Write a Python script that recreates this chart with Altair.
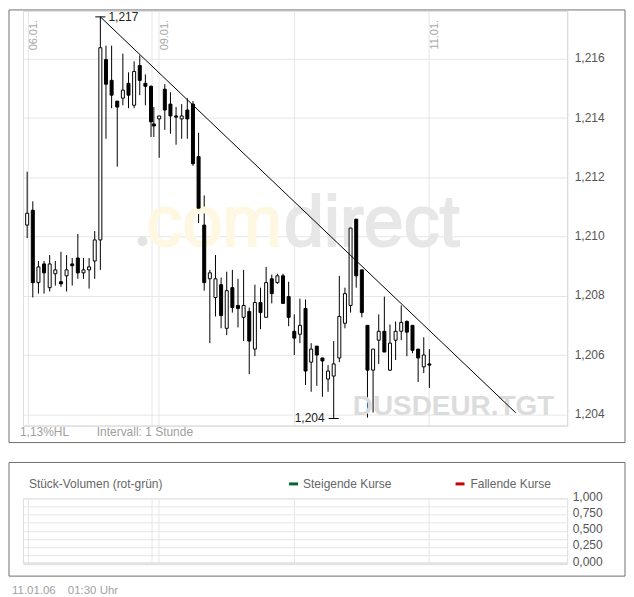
import altair as alt
import pandas as pd

# ---------------- data ----------------
# 06.01. hourly candles, one late Sunday candle, then 09.01.-11.01. hourly candles
slot = list(range(23)) + [22.5] + [23.45 + k for k in range(49)]

opens = [1.21039, 1.21089, 1.20845, 1.20908, 1.20828, 1.20875, 1.20848, 1.20868, 1.20908, 1.20928,
         1.20878, 1.20888, 1.20918, 1.20989, 1.21597, 1.21527, 1.21457, 1.21467, 1.21517, 1.21443,
         1.21577, 1.21517, 1.21507, 1.21380,
         1.21397, 1.21497, 1.21447, 1.21407, 1.21397, 1.21427, 1.21447, 1.21270, 1.21039, 1.20858,
         1.20795, 1.20838, 1.20691, 1.20828, 1.20768, 1.20728, 1.20748, 1.20621, 1.20778, 1.20728,
         1.20858, 1.20845, 1.20868, 1.20798, 1.20681, 1.20671, 1.20758, 1.20577, 1.20631, 1.20591,
         1.20520, 1.20530, 1.20591, 1.20708, 1.20768, 1.21059, 1.20888, 1.20701, 1.20550, 1.20651,
         1.20681, 1.20550, 1.20651, 1.20681, 1.20714, 1.20701, 1.20621, 1.20561, 1.20571]
highs = [1.21219, 1.21119, 1.20918, 1.20918, 1.20938, 1.20918, 1.20949, 1.20938, 1.20928, 1.21009,
         1.20928, 1.20928, 1.21019, 1.21741, 1.21644, 1.21644, 1.21457, 1.21617, 1.21554, 1.21591,
         1.21611, 1.21547, 1.21510, 1.21437,
         1.21407, 1.21514, 1.21487, 1.21437, 1.21447, 1.21467, 1.21457, 1.21350, 1.21139, 1.20888,
         1.20938, 1.20862, 1.20882, 1.20888, 1.20858, 1.20888, 1.20761, 1.20838, 1.20828, 1.20898,
         1.20872, 1.20875, 1.20875, 1.20848, 1.20738, 1.20791, 1.20788, 1.20641, 1.20631, 1.20591,
         1.20567, 1.20648, 1.20868, 1.20828, 1.21039, 1.21059, 1.20888, 1.20701, 1.20621, 1.20738,
         1.20798, 1.20704, 1.20714, 1.20768, 1.20718, 1.20701, 1.20621, 1.20661, 1.20621]
lows = [1.20995, 1.20795, 1.20808, 1.20808, 1.20815, 1.20835, 1.20831, 1.20815, 1.20835, 1.20858,
        1.20858, 1.20825, 1.20858, 1.20888, 1.21330, 1.21433, 1.21236, 1.21443, 1.21433, 1.21433,
        1.21477, 1.21443, 1.21336, 1.21336,
        1.21266, 1.21360, 1.21347, 1.21310, 1.21330, 1.21330, 1.21239, 1.21046, 1.20818, 1.20641,
        1.20731, 1.20691, 1.20668, 1.20744, 1.20694, 1.20648, 1.20537, 1.20597, 1.20688, 1.20728,
        1.20775, 1.20841, 1.20775, 1.20698, 1.20601, 1.20641, 1.20500, 1.20477, 1.20497, 1.20460,
        1.20477, 1.20387, 1.20577, 1.20691, 1.20744, 1.20828, 1.20728, 1.20390, 1.20407, 1.20571,
        1.20611, 1.20547, 1.20584, 1.20651, 1.20597, 1.20607, 1.20510, 1.20540, 1.20490]
closes = [1.21079, 1.20845, 1.20898, 1.20878, 1.20908, 1.20888, 1.20841, 1.20888, 1.20902, 1.20878,
          1.20888, 1.20898, 1.20989, 1.21637, 1.21514, 1.21477, 1.21437, 1.21494, 1.21477, 1.21557,
          1.21527, 1.21507, 1.21387, 1.21373,
          1.21407, 1.21427, 1.21407, 1.21403, 1.21407, 1.21397, 1.21246, 1.21096, 1.20845, 1.20878,
          1.20858, 1.20734, 1.20818, 1.20761, 1.20758, 1.20768, 1.20648, 1.20778, 1.20744, 1.20845,
          1.20808, 1.20868, 1.20775, 1.20728, 1.20658, 1.20701, 1.20547, 1.20621, 1.20601, 1.20581,
          1.20547, 1.20571, 1.20731, 1.20808, 1.21029, 1.20868, 1.20744, 1.20550, 1.20621, 1.20681,
          1.20611, 1.20641, 1.20681, 1.20711, 1.20678, 1.20617, 1.20591, 1.20601, 1.20567]

day_slots = [0.1, 22.1, 23.35, 47.4, 71.3]
label_slots = [0.1, 23.35, 71.3]
date_labels = ["06.01.", "09.01.", "11.01."]

price_ticks = [1.204, 1.206, 1.208, 1.210, 1.212, 1.214, 1.216]
vol_grid = [0, 0.125, 0.25, 0.375, 0.5, 0.625, 0.75, 0.875, 1.0]

trend_slot = [13, 86.8]
trend_price = [1.21741, 1.20406]

hl_slot = [13, 54.45]
hl_price = [1.21741, 1.20387]
hl_label = ["1,217", "1,204"]
hl_side = ["r", "l"]

# ---------------- tables ----------------
df = pd.DataFrame({"slot": slot, "open": opens, "high": highs, "low": lows, "close": closes})
trend = pd.DataFrame({"slot": trend_slot, "price": trend_price})
hl = pd.DataFrame({"slot": hl_slot, "price": hl_price, "label": hl_label, "side": hl_side})
dl = pd.DataFrame({"slot": label_slots, "label": date_labels})
one = pd.DataFrame({"a": [0]})

FONT = "Liberation Sans"
W, H1, H2 = 546, 416, 65
FR = W + 58  # right edge of the panel frames

xs = alt.Scale(domain=[-0.75, 95.93], nice=False, zero=False, padding=0)
ys = alt.Scale(domain=[1.20363, 1.21761], nice=False, zero=False, padding=0)
vs = alt.Scale(domain=[0, 1], nice=False, zero=False, padding=0)

xaxis = alt.Axis(values=day_slots, grid=True, gridColor="#e6e6e6", labels=False, ticks=False,
                 domain=True, domainColor="#d9d9d9", title=None)
yaxis = alt.Axis(orient="right", values=price_ticks,
                 labelExpr="replace(format(datum.value, '.3f'), '.', ',')",
                 grid=True, gridColor="#e6e6e6", ticks=False, domain=True, domainColor="#d9d9d9",
                 labelPadding=7, labelFontSize=12, labelColor="#555555", labelFont=FONT,
                 labelOverlap=False, labelOffset=-1, title=None)

X = lambda f: alt.X(f, scale=xs, axis=xaxis)
Y = lambda f: alt.Y(f, scale=ys, axis=yaxis)

frame1 = alt.Chart(one).mark_rect(fill="transparent", stroke="#707070", strokeWidth=1).encode(
    x=alt.value(-14), x2=alt.value(FR), y=alt.value(-1), y2=alt.value(H1 + 17))

wm_com = alt.Chart(one).mark_text(text="com", font=FONT, fontSize=72, align="right",
                                  baseline="alphabetic", color="#fef7e2", stroke="#fef7e2",
                                  strokeWidth=2).encode(x=alt.value(260), y=alt.value(236))
wm_direct = alt.Chart(one).mark_text(text="direct", font=FONT, fontSize=72, align="left",
                                     baseline="alphabetic", color="#e7e7e7", stroke="#e7e7e7",
                                     strokeWidth=2).encode(x=alt.value(262), y=alt.value(236))
wm_dot = alt.Chart(one).mark_circle(size=100, color="#e4e4e4", opacity=1).encode(
    x=alt.value(120), y=alt.value(231))
wm_tgt = alt.Chart(one).mark_text(text="DUSDEUR.TGT", font=FONT, fontSize=28, fontWeight="bold",
                                  align="right", baseline="alphabetic", color="#dcdcdc").encode(
    x=alt.value(533), y=alt.value(405))

wick = alt.Chart(df).mark_rule(color="black", strokeWidth=1).encode(
    x=X("slot:Q"), y=Y("low:Q"), y2="high:Q")
body = alt.Chart(df).mark_bar(size=3, stroke="black", strokeWidth=1).encode(
    x=X("slot:Q"), y=Y("open:Q"), y2="close:Q",
    fill=alt.condition("datum.close >= datum.open", alt.value("white"), alt.value("black")))

trendline = alt.Chart(trend).mark_line(color="black", strokeWidth=1).encode(
    x=X("slot:Q"), y=Y("price:Q"))

hl_rule = alt.Chart(hl).transform_calculate(
    xa="datum.slot - 0.9", xb="datum.slot + 0.9").mark_rule(color="black", strokeWidth=1).encode(
    x=X("xa:Q"), x2="xb:Q", y=Y("price:Q"))
hl_text_r = alt.Chart(hl).transform_filter("datum.side == 'r'").transform_calculate(
    xb="datum.slot + 0.9").mark_text(align="left", dx=3, baseline="middle", font=FONT,
                                     fontSize=12, color="#222222").encode(
    x=X("xb:Q"), y=Y("price:Q"), text="label:N")
hl_text_l = alt.Chart(hl).transform_filter("datum.side == 'l'").transform_calculate(
    xa="datum.slot - 0.9").mark_text(align="right", dx=-4, baseline="middle", font=FONT,
                                     fontSize=12, color="#222222").encode(
    x=X("xa:Q"), y=Y("price:Q"), text="label:N")

dates = alt.Chart(dl).mark_text(angle=270, align="right", baseline="top", font=FONT, fontSize=11,
                                color="#a8a8a8").encode(
    x=X("slot:Q"), y=alt.value(9), text="label:N")

info1 = alt.Chart(one).mark_text(text="1,13%HL", align="left", baseline="middle", font=FONT,
                                 fontSize=12, color="#a0a0a0").encode(
    x=alt.value(-3), y=alt.value(H1 + 6))
info2 = alt.Chart(one).mark_text(text="Intervall: 1 Stunde", align="left", baseline="middle",
                                 font=FONT, fontSize=12, color="#a0a0a0").encode(
    x=alt.value(74), y=alt.value(H1 + 6))

main = alt.layer(wick, frame1, wm_com, wm_direct, wm_dot, wm_tgt, body, trendline,
                 hl_rule, hl_text_r, hl_text_l, dates, info1, info2).properties(width=W, height=H1)

# ---------------- volume panel (empty) ----------------
vx_axis = alt.Axis(values=day_slots, grid=True, gridColor="#e6e6e6", labels=False, ticks=False,
                   domain=True, domainColor="#e2e2e2", domainWidth=3, title=None)
vy_axis = alt.Axis(orient="right", values=vol_grid,
                   labelExpr="(datum.value * 4) % 1 == 0 ? replace(format(datum.value, '.3f'), '.', ',') : ''",
                   grid=True, gridColor="#e6e6e6", ticks=False, domain=False, labelPadding=5,
                   labelFontSize=12, labelColor="#555555", labelFont=FONT, labelOverlap=False,
                   labelOffset=-2, title=None)

vgrid = pd.DataFrame({"slot": day_slots, "vol": [0] * len(day_slots)})
vbase = alt.Chart(vgrid).mark_point(opacity=0).encode(
    x=alt.X("slot:Q", scale=xs, axis=vx_axis), y=alt.Y("vol:Q", scale=vs, axis=vy_axis))

frame2 = alt.Chart(one).mark_rect(fill="transparent", stroke="#707070", strokeWidth=1).encode(
    x=alt.value(-14), x2=alt.value(FR), y=alt.value(-36), y2=alt.value(H2 + 13))

def vtext(t, x, color="#666666"):
    return alt.Chart(one).mark_text(text=t, align="left", baseline="middle", font=FONT,
                                    fontSize=12, color=color).encode(x=alt.value(x), y=alt.value(-14.5))

swatch_up = alt.Chart(one).mark_rect(fill="#006633").encode(
    x=alt.value(267), x2=alt.value(276), y=alt.value(-16), y2=alt.value(-13))
swatch_dn = alt.Chart(one).mark_rect(fill="#cc0000").encode(
    x=alt.value(434), x2=alt.value(443), y=alt.value(-16), y2=alt.value(-13))

foot1 = alt.Chart(one).mark_text(text="11.01.06", align="left", baseline="middle", font=FONT,
                                 fontSize=11.5, color="#a0a0a0").encode(x=alt.value(-11), y=alt.value(H2 + 28))
foot2 = alt.Chart(one).mark_text(text="01:30 Uhr", align="left", baseline="middle", font=FONT,
                                 fontSize=11.5, color="#a0a0a0").encode(x=alt.value(45), y=alt.value(H2 + 28))

vol = alt.layer(vbase, frame2, vtext("Stück-Volumen (rot-grün)", 6), swatch_up,
                vtext("Steigende Kurse", 281), swatch_dn, vtext("Fallende Kurse", 449),
                foot1, foot2).properties(width=W, height=H2)

chart = alt.vconcat(main, vol, spacing=18).properties(padding=0).configure_view(
    strokeWidth=0).configure(font=FONT)

chart.save("out.html", embed_options={"renderer": "svg", "actions": False})
